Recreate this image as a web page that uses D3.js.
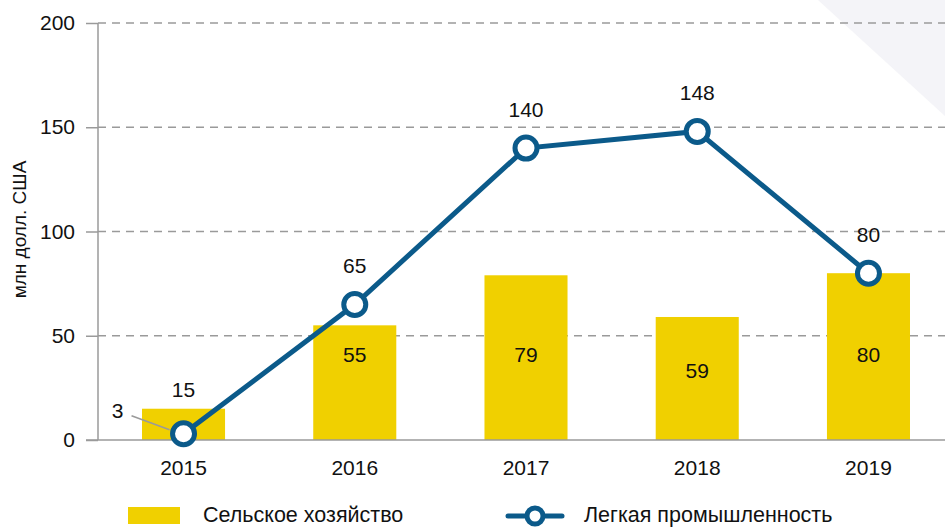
<!DOCTYPE html>
<html>
<head>
<meta charset="utf-8">
<script src="https://cdn.jsdelivr.net/npm/d3@7"></script>
<style>
    body { margin: 0; background: #fff; }
    svg { display: block; font-family: 'Liberation Sans', Arial, sans-serif; }
    .grid line { stroke: #9a9a9a; stroke-width: 1.5; stroke-dasharray: 8,6; }
</style>
</head>
<body>
<div id="chart"></div>
<script>
// data
const years = ['2015', '2016', '2017', '2018', '2019'];
const agriculture = [15, 55, 79, 59, 80];
const lightIndustry = [3, 65, 140, 148, 80];
const yTicks = [0, 50, 100, 150, 200];

// where the bar labels sit (in value units), null = above the bar
const barLabelAt = [null, 41, 41, 33, 41];

const W = 945, H = 527;
const margin = { top: 23, right: 0, bottom: 87, left: 98 };
const width = W - margin.left - margin.right;
const height = H - margin.top - margin.bottom;
const fs = 21;

const svg = d3.select('#chart').append('svg').attr('width', W).attr('height', H);

// light corner shape in the background
svg.append('path')
    .attr('d', `M818,0 L${W},0 L${W},116 Z`)
    .attr('fill', '#f4f4f8');

const g = svg.append('g').attr('transform', `translate(${margin.left},${margin.top})`);

const x = d3.scaleBand().domain(years).range([0, 856]).paddingInner(0.515).paddingOuter(0.257);
const y = d3.scaleLinear().domain([0, 200]).range([height, 0]);

// gridlines
g.append('g').attr('class', 'grid')
    .selectAll('line')
    .data(yTicks.filter(d => d > 0))
    .join('line')
    .attr('x1', 0).attr('x2', W - margin.left)
    .attr('y1', d => y(d)).attr('y2', d => y(d));

// y axis
const yAxis = d3.axisLeft(y).tickValues(yTicks).tickSize(12).tickPadding(11);
g.append('g').call(yAxis)
    .call(s => s.select('.domain').attr('d', `M0,${height}V0`).attr('stroke', '#9a9a9a').attr('stroke-width', 1.5))
    .call(s => s.selectAll('.tick line').attr('stroke', '#9a9a9a').attr('stroke-width', 1.5))
    .call(s => s.selectAll('.tick text').attr('font-size', fs).attr('fill', '#111').attr('font-family', 'Liberation Sans, Arial, sans-serif'));

svg.append('text')
    .attr('transform', `translate(26,${margin.top + height / 2 - 2}) rotate(-90)`)
    .attr('text-anchor', 'middle')
    .attr('font-size', 19)
    .attr('fill', '#111')
    .text('млн долл. США');

// bars
g.selectAll('rect.bar')
    .data(agriculture)
    .join('rect')
    .attr('class', 'bar')
    .attr('x', (d, i) => x(years[i]))
    .attr('width', x.bandwidth())
    .attr('y', d => y(d))
    .attr('height', d => height - y(d))
    .attr('fill', '#f0d000');

// x axis baseline
g.append('line')
    .attr('x1', -12).attr('x2', W - margin.left)
    .attr('y1', height).attr('y2', height)
    .attr('stroke', '#9a9a9a').attr('stroke-width', 1.5);

g.selectAll('text.xlab')
    .data(years)
    .join('text')
    .attr('class', 'xlab')
    .attr('x', d => x(d) + x.bandwidth() / 2)
    .attr('y', height + 35)
    .attr('text-anchor', 'middle')
    .attr('font-size', fs)
    .attr('fill', '#111')
    .text(d => d);

// bar labels
g.selectAll('text.blab')
    .data(agriculture)
    .join('text')
    .attr('class', 'blab')
    .attr('x', (d, i) => x(years[i]) + x.bandwidth() / 2)
    .attr('y', (d, i) => barLabelAt[i] === null ? y(d) - 12 : y(barLabelAt[i]) + 7)
    .attr('text-anchor', 'middle')
    .attr('font-size', fs)
    .attr('fill', '#111')
    .text(d => d);

// line
const cx = i => x(years[i]) + x.bandwidth() / 2;
const line = d3.line().x((d, i) => cx(i)).y(d => y(d));

g.append('path')
    .datum(lightIndustry)
    .attr('d', line)
    .attr('fill', 'none')
    .attr('stroke', '#0b5a8a')
    .attr('stroke-width', 5);

g.selectAll('circle.pt')
    .data(lightIndustry)
    .join('circle')
    .attr('class', 'pt')
    .attr('cx', (d, i) => cx(i))
    .attr('cy', d => y(d))
    .attr('r', 11)
    .attr('fill', '#fff')
    .attr('stroke', '#0b5a8a')
    .attr('stroke-width', 5);

// line labels
g.selectAll('text.llab')
    .data(lightIndustry)
    .join('text')
    .attr('class', 'llab')
    .attr('x', (d, i) => i === 0 ? cx(i) - 66 : cx(i))
    .attr('y', (d, i) => i === 0 ? y(d) - 16 : y(d) - 31)
    .attr('text-anchor', 'middle')
    .attr('font-size', fs)
    .attr('fill', '#111')
    .text(d => d);

// leader for the first label
g.append('line')
    .attr('x1', cx(0) - 52).attr('y1', y(lightIndustry[0]) - 18)
    .attr('x2', cx(0) - 14).attr('y2', y(lightIndustry[0]) - 4)
    .attr('stroke', '#9a9a9a').attr('stroke-width', 1.5);

// legend
const legend = svg.append('g').attr('transform', 'translate(0,516)');
legend.append('rect')
    .attr('x', 128).attr('y', -9).attr('width', 52).attr('height', 17)
    .attr('fill', '#f0d000');
legend.append('text')
    .attr('x', 203).attr('y', 6)
    .attr('font-size', 21.5).attr('fill', '#111')
    .text('Сельское хозяйство');

legend.append('line')
    .attr('x1', 508).attr('x2', 562).attr('y1', 0).attr('y2', 0)
    .attr('stroke', '#0b5a8a').attr('stroke-width', 5).attr('stroke-linecap', 'round');
legend.append('circle')
    .attr('cx', 535).attr('cy', 0).attr('r', 8)
    .attr('fill', '#fff').attr('stroke', '#0b5a8a').attr('stroke-width', 5);
legend.append('text')
    .attr('x', 584).attr('y', 6)
    .attr('font-size', 21.5).attr('fill', '#111')
    .text('Легкая промышленность');
</script>
</body>
</html>
